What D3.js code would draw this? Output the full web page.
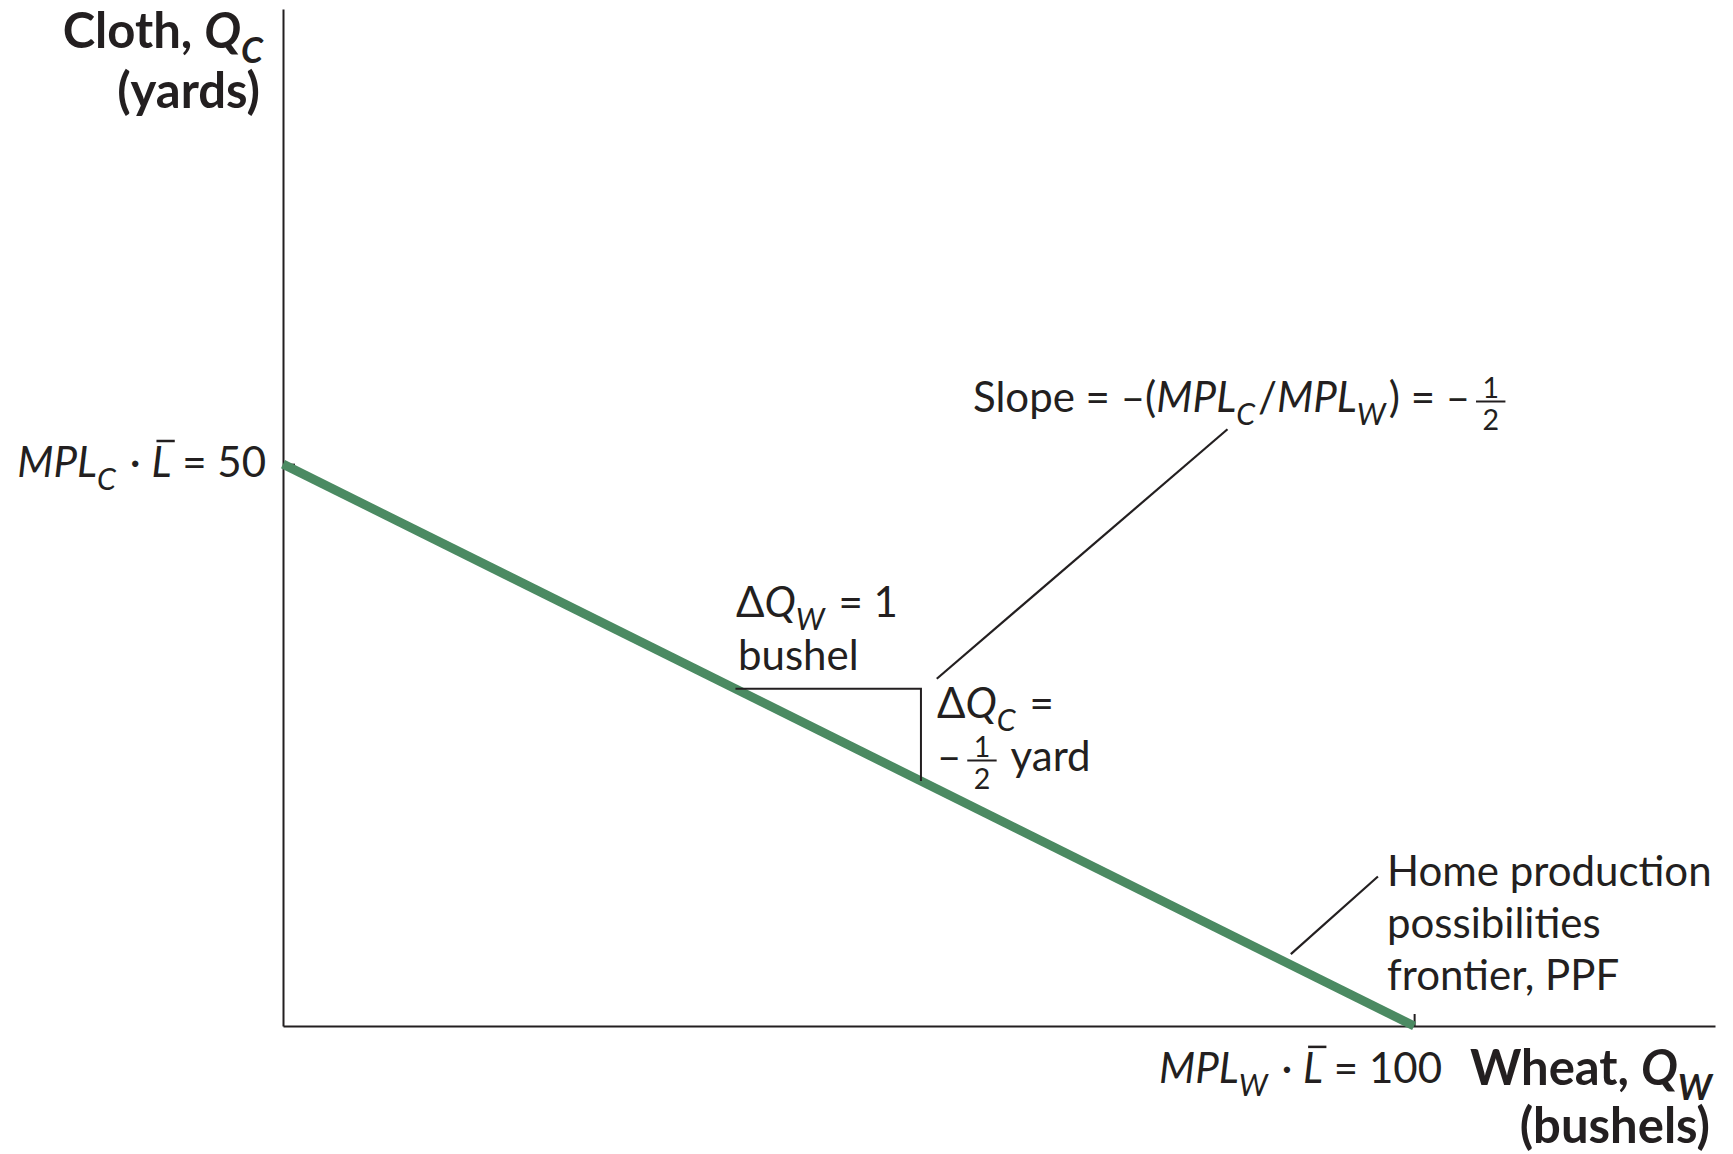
<!DOCTYPE html>
<html>
<head>
<meta charset="utf-8">
<script src="https://cdn.jsdelivr.net/npm/d3@7"></script>
<style>
  body { margin: 0; background: #fff; }
  text { font-family: Lato, "Noto Sans", sans-serif; fill: #231f20; white-space: pre; }
</style>
</head>
<body>
<div id="chart"></div>
<script>
// chart size
const width = 1733;
const height = 1154;

// data (wheat on x, cloth on y)
const ppfWheat = [0, 100];
const ppfCloth = [50, 0];
const yTicks = [50];
const xTicks = [100];
// the little slope triangle
const triWheat = [40, 56.4, 56.4];
const triCloth = [30, 30, 21.8];
// leader lines
const slopeLeaderWheat = [57.8, 83.5];
const slopeLeaderCloth = [30.9, 53.1];
const ppfLeaderWheat = [89.1, 96.8];
const ppfLeaderCloth = [6.4, 13.3];

const green = "#4b8a62";
const ink = "#231f20";

const svg = d3.select("#chart")
  .append("svg")
  .attr("width", width)
  .attr("height", height);

const x = d3.scaleLinear().domain([0, 126.6]).range([283, 1715]);
const y = d3.scaleLinear().domain([0, 90.5]).range([1026, 9]);

// axes, ticks point inward
svg.append("g")
  .attr("transform", `translate(0,${y(0)})`)
  .call(d3.axisTop(x).tickValues(xTicks).tickSize(12).tickSizeOuter(0).tickFormat(""))
  .call(g => g.selectAll("path,line").attr("stroke", ink).attr("stroke-width", 2));

svg.append("g")
  .attr("transform", `translate(${x(0)},0)`)
  .call(d3.axisRight(y).tickValues(yTicks).tickSize(12).tickSizeOuter(0).tickFormat(""))
  .call(g => g.selectAll("path,line").attr("stroke", ink).attr("stroke-width", 2));

const line = d3.line().x(d => x(d[0])).y(d => y(d[1]));

// PPF
svg.append("path")
  .attr("d", line(d3.zip(ppfWheat, ppfCloth)))
  .attr("fill", "none")
  .attr("stroke", green)
  .attr("stroke-width", 9);

// slope triangle
svg.append("path")
  .attr("d", line(d3.zip(triWheat, triCloth)))
  .attr("fill", "none")
  .attr("stroke", ink)
  .attr("stroke-width", 2);

// leaders
[[slopeLeaderWheat, slopeLeaderCloth], [ppfLeaderWheat, ppfLeaderCloth]].forEach(p => {
  svg.append("path")
    .attr("d", line(d3.zip(p[0], p[1])))
    .attr("fill", "none")
    .attr("stroke", ink)
    .attr("stroke-width", 2.2);
});

// rich text helper: segs = {t, i, sub, bar, frac:[num,den]}
function rich(px, py, segs, fs, opts = {}) {
  const g = svg.append("g");
  const weight = opts.bold ? 700 : 400;
  let cx = 0;
  segs.forEach(s => {
    if (s.frac) {
      const ffs = fs * 0.68;
      const w = fs * 0.7;
      const x0 = cx + fs * 0.14;
      const mid = x0 + w / 2;
      g.append("text").attr("x", mid).attr("y", -fs * 0.34)
        .attr("text-anchor", "middle").attr("font-size", ffs).text(s.frac[0]);
      g.append("text").attr("x", mid).attr("y", fs * 0.42)
        .attr("text-anchor", "middle").attr("font-size", ffs).text(s.frac[1]);
      g.append("line")
        .attr("x1", x0).attr("x2", x0 + w)
        .attr("y1", -fs * 0.25).attr("y2", -fs * 0.25)
        .attr("stroke", ink).attr("stroke-width", 2);
      cx = x0 + w + fs * 0.1;
      return;
    }
    const sz = s.sub ? fs * 0.72 : fs;
    const t = g.append("text")
      .attr("x", cx)
      .attr("y", s.sub ? fs * 0.3 : 0)
      .attr("font-size", sz)
      .attr("font-weight", weight)
      .attr("font-style", s.i ? "italic" : "normal")
      .text(s.t);
    const len = t.node().getComputedTextLength();
    if (s.bar) {
      g.append("line")
        .attr("x1", cx + fs * 0.12).attr("x2", cx + len + fs * 0.08)
        .attr("y1", -fs * 0.86).attr("y2", -fs * 0.86)
        .attr("stroke", ink).attr("stroke-width", 2.5);
    }
    cx += len + (s.sub ? 3 : 0);
  });
  const dx = opts.anchor === "end" ? px - cx : px;
  g.attr("transform", `translate(${dx},${py})`);
  return g;
}

const fs = 42;
const fsb = 49;

// axis titles
rich(266, 48, [{t: "Cloth, "}, {t: "Q", i: true}, {t: "C", i: true, sub: true}], fsb, {bold: true, anchor: "end"});
rich(260, 108, [{t: "(yards)"}], fsb, {bold: true, anchor: "end"});
rich(1715, 1085, [{t: "Wheat, "}, {t: "Q", i: true}, {t: "W", i: true, sub: true}], fsb, {bold: true, anchor: "end"});
rich(1710, 1143, [{t: "(bushels)"}], fsb, {bold: true, anchor: "end"});

// intercept labels
rich(266, y(50) + 13, [
  {t: "MPL", i: true}, {t: "C", i: true, sub: true}, {t: " \u00b7 "}, {t: "L", i: true, bar: true}, {t: " = 50"}
], fs, {anchor: "end"});
rich(1442, 1083, [
  {t: "MPL", i: true}, {t: "W", i: true, sub: true}, {t: " \u00b7 "}, {t: "L", i: true, bar: true}, {t: " = 100"}
], fs, {anchor: "end"});

// slope
rich(973, 412, [
  {t: "Slope = \u2013("}, {t: "MPL", i: true}, {t: "C", i: true, sub: true}, {t: "/"},
  {t: "MPL", i: true}, {t: "W", i: true, sub: true}, {t: ") = \u2013"}, {frac: ["1", "2"]}
], fs);

// triangle labels
rich(736, 617, [{t: "\u0394"}, {t: "Q", i: true}, {t: "W", i: true, sub: true}, {t: " = 1"}], fs);
rich(738, 670, [{t: "bushel"}], fs);
rich(937, 718, [{t: "\u0394"}, {t: "Q", i: true}, {t: "C", i: true, sub: true}, {t: " ="}], fs);
rich(937, 771, [{t: "\u2013"}, {frac: ["1", "2"]}, {t: " yard"}], fs);

// PPF label
rich(1387, 886, [{t: "Home production"}], fs);
rich(1387, 938, [{t: "possibilities"}], fs);
rich(1387, 990, [{t: "frontier, PPF"}], fs);
</script>
</body>
</html>
